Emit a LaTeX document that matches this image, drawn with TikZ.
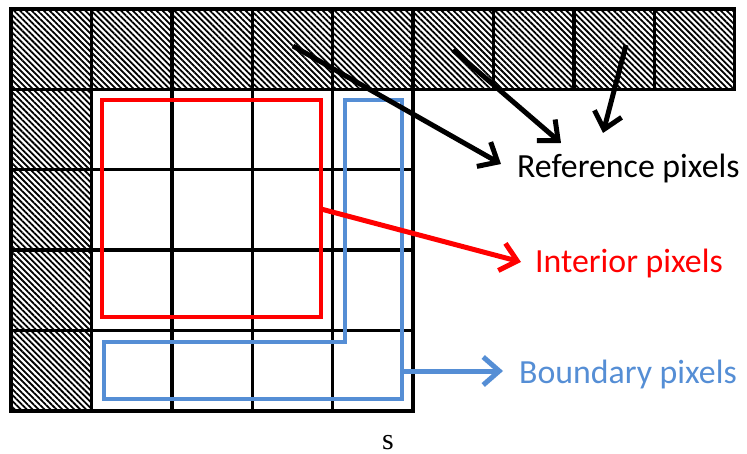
\documentclass[tikz,border=0pt]{standalone}
\usepackage{fontspec}
\setmainfont{Carlito}
\newfontfamily\timesfont{Liberation Serif}
\usetikzlibrary{arrows.meta,patterns.meta}
\definecolor{boundblue}{RGB}{85,142,213}
\tikzset{
  hatched/.style={draw=black,line width=3.4pt,pattern={Lines[angle=-45,distance=4.2pt,line width=1.8pt]}},
  cell/.style={draw=black,line width=3.4pt},
  pointer/.style={line width=5pt,-{Straight Barb[length=16pt,width=28pt]}},
  tag/.style={anchor=base west,inner sep=0pt,font=\fontsize{33.8}{40}\selectfont}
}
\begin{document}
\begin{tikzpicture}[x=1pt,y=-1pt]
	\useasboundingbox (0,0) rectangle (747,454);
	% Reference row on top and column on the left
	\foreach \i in {0,...,8}
	\draw[hatched] ({11+80.4*\i},9) rectangle ++(80.4,80.4);
	\foreach \j in {1,...,4}
	\draw[hatched] (11,{9+80.4*\j}) rectangle ++(80.4,80.4);
	% Block of 4x4 pixels
	\foreach \i in {1,...,4}
	\foreach \j in {1,...,4}
	\draw[cell] ({11+80.4*\i},{9+80.4*\j}) rectangle ++(80.4,80.4);
	% Interior and boundary regions
	\draw[red,line width=3.8pt] (102,100) rectangle (321,317);
	\draw[boundblue,line width=3.8pt] (345,100) -- (402,100) -- (402,399)
	-- (104,399) -- (104,342) -- (345,342) -- cycle;
	% Labels
	\node[tag] (refpix) at (517,178) {Reference pixels};
	\node[tag,text=red] (intpix) at (535,273) {Interior pixels};
	\node[tag,text=boundblue] (bndpix) at (519,383) {Boundary pixels};
	\node[anchor=base,inner sep=0pt,font=\timesfont\fontsize{30}{36}\selectfont] (size) at (388,449) {s};
	% Arrow ends
	\coordinate (r1) at (293,46);
	\coordinate (r1tip) at (501,164);
	\coordinate (r2) at (453,50);
	\coordinate (r2tip) at (561,143);
	\coordinate (r3) at (626,45);
	\coordinate (r3tip) at (603,133);
	\coordinate (i1) at (321,209);
	\coordinate (i1tip) at (521,262);
	\coordinate (b1) at (402,371);
	\coordinate (b1tip) at (503,371);
	% Arrows
	\draw[pointer] (r1) -- (r1tip);
	\draw[pointer] (r2) -- (r2tip);
	\draw[pointer] (r3) -- (r3tip);
	\draw[pointer,red] (i1) -- (i1tip);
	\draw[pointer,boundblue] (b1) -- (b1tip);
\end{tikzpicture}
\end{document}
